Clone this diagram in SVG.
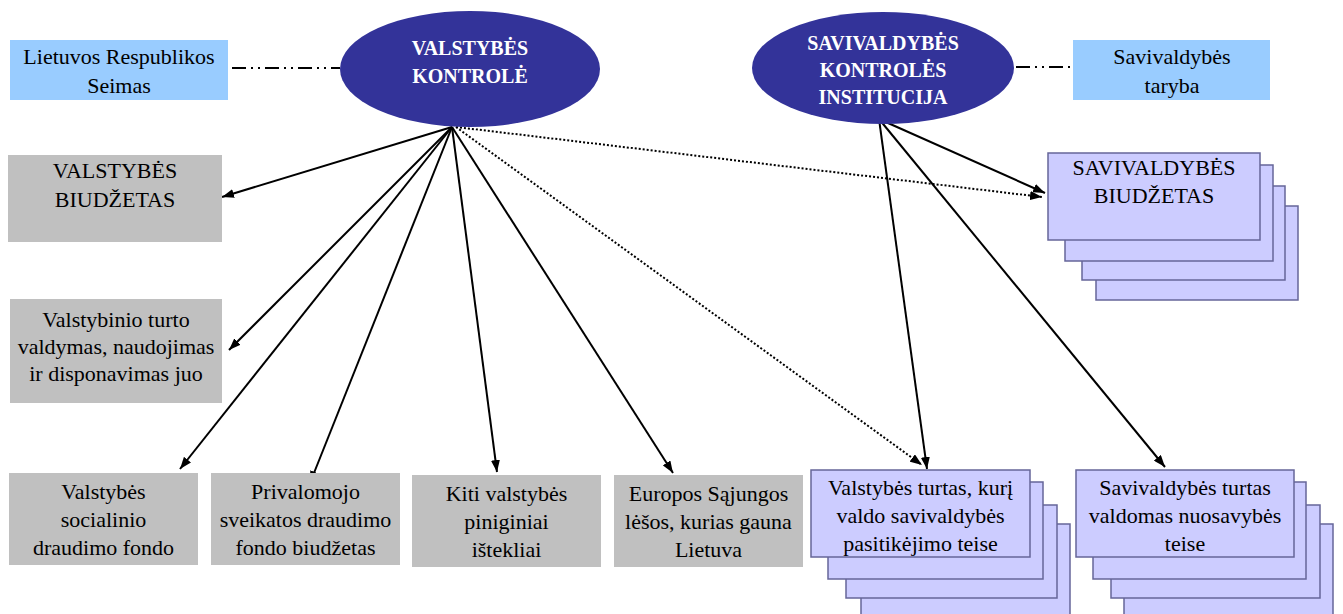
<svg xmlns="http://www.w3.org/2000/svg" width="1343" height="614" viewBox="0 0 1343 614">
<style>
.t{font-size:22px;fill:#000;text-anchor:middle}
.e{font-size:20px;font-weight:bold;fill:#fff;text-anchor:middle}
.gray{fill:#c0c0c0}
.blue{fill:#99ccff}
.stk{fill:#ccccff;stroke:#666699;stroke-width:1.5}
.ell{fill:#333399}
.arr{stroke:#000;stroke-width:2;fill:none;marker-end:url(#ah)}
.dot{stroke:#000;stroke-width:2;fill:none;stroke-dasharray:2 2;marker-end:url(#ah)}
.dd{stroke:#000;stroke-width:2;fill:none;stroke-dasharray:14 5 2 5 2 5}
</style>
<defs>
<marker id="ah" markerUnits="userSpaceOnUse" markerWidth="13" markerHeight="9" refX="12" refY="4.5" orient="auto">
<path d="M0,0 L12,4.5 L0,9 z" fill="#000"/>
</marker>
</defs>
<rect width="1343" height="614" fill="#fff"/>

<g id="connectors">
<line class="dd" x1="232" y1="68" x2="340" y2="68"/>
<line class="dd" x1="1016" y1="67" x2="1073" y2="67"/>
<line class="arr" x1="452" y1="127" x2="222" y2="197"/>
<line class="arr" x1="452" y1="127" x2="229" y2="350"/>
<line class="arr" x1="452" y1="127" x2="180" y2="469"/>
<line class="arr" x1="452" y1="127" x2="310" y2="483"/>
<line class="arr" x1="452" y1="127" x2="497" y2="472"/>
<line class="arr" x1="452" y1="127" x2="673" y2="473"/>
<line class="dot" x1="456" y1="127" x2="922" y2="465"/>
<line class="dot" x1="456" y1="127" x2="1042" y2="197"/>
<line class="arr" x1="879" y1="119" x2="1045" y2="193"/>
<line class="arr" x1="879" y1="119" x2="927" y2="469"/>
<line class="arr" x1="879" y1="119" x2="1165" y2="467"/>
</g>

<g font-family="Liberation Serif, Times New Roman, Times, serif">
<g id="seimas">
<rect class="blue" x="10" y="40" width="218" height="60"/>
<text class="t" x="119" y="64">Lietuvos Respublikos</text>
<text class="t" x="119" y="93">Seimas</text>
</g>

<g id="valstybes-kontrole">
<ellipse class="ell" cx="470" cy="69" rx="130" ry="58"/>
<text class="e" x="470" y="55">VALSTYBĖS</text>
<text class="e" x="470" y="83">KONTROLĖ</text>
</g>

<g id="savivaldybes-kontroles">
<ellipse class="ell" cx="883" cy="68" rx="131" ry="56"/>
<text class="e" x="883" y="50">SAVIVALDYBĖS</text>
<text class="e" x="883" y="77">KONTROLĖS</text>
<text class="e" x="883" y="104">INSTITUCIJA</text>
</g>

<g id="taryba">
<rect class="blue" x="1073" y="40" width="197" height="60"/>
<text class="t" x="1172" y="64">Savivaldybės</text>
<text class="t" x="1172" y="93">taryba</text>
</g>

<g id="valstybes-biudzetas">
<rect class="gray" x="8" y="155" width="214" height="87"/>
<text class="t" x="115" y="178">VALSTYBĖS</text>
<text class="t" x="115" y="207">BIUDŽETAS</text>
</g>

<g id="valstybinio-turto">
<rect class="gray" x="10" y="299" width="212" height="104"/>
<text class="t" x="116" y="327">Valstybinio turto</text>
<text class="t" x="116" y="354">valdymas, naudojimas</text>
<text class="t" x="116" y="381">ir disponavimas juo</text>
</g>

<g id="socialinio">
<rect class="gray" x="9" y="473" width="189" height="92"/>
<text class="t" x="103.5" y="499">Valstybės</text>
<text class="t" x="103.5" y="527">socialinio</text>
<text class="t" x="103.5" y="555">draudimo fondo</text>
</g>

<g id="privalomojo">
<rect class="gray" x="211" y="473" width="189" height="92"/>
<text class="t" x="305.5" y="499">Privalomojo</text>
<text class="t" x="305.5" y="527">sveikatos draudimo</text>
<text class="t" x="305.5" y="555">fondo biudžetas</text>
</g>

<g id="kiti">
<rect class="gray" x="412" y="475" width="189" height="92"/>
<text class="t" x="506.5" y="501">Kiti valstybės</text>
<text class="t" x="506.5" y="529">piniginiai</text>
<text class="t" x="506.5" y="557">ištekliai</text>
</g>

<g id="europos">
<rect class="gray" x="614" y="475" width="189" height="92"/>
<text class="t" x="708.5" y="501">Europos Sąjungos</text>
<text class="t" x="708.5" y="529">lėšos, kurias gauna</text>
<text class="t" x="708.5" y="557">Lietuva</text>
</g>

<g id="savivaldybes-biudzetas">
<rect class="stk" x="1096" y="206" width="202" height="94"/>
<rect class="stk" x="1082" y="186" width="203" height="94"/>
<rect class="stk" x="1065" y="165" width="208" height="96"/>
<rect class="stk" x="1048" y="153" width="212" height="87"/>
<text class="t" x="1154" y="175">SAVIVALDYBĖS</text>
<text class="t" x="1154" y="203">BIUDŽETAS</text>
</g>

<g id="valstybes-turtas">
<rect class="stk" x="861" y="524" width="209" height="100"/>
<rect class="stk" x="846" y="505" width="211" height="93"/>
<rect class="stk" x="828" y="482" width="215" height="97"/>
<rect class="stk" x="811" y="470" width="219" height="87"/>
<text class="t" x="920.5" y="495">Valstybės turtas, kurį</text>
<text class="t" x="920.5" y="523">valdo savivaldybės</text>
<text class="t" x="920.5" y="551">pasitikėjimo teise</text>
</g>

<g id="savivaldybes-turtas">
<rect class="stk" x="1124" y="524" width="209" height="100"/>
<rect class="stk" x="1111" y="505" width="209" height="93"/>
<rect class="stk" x="1093" y="482" width="213" height="97"/>
<rect class="stk" x="1076" y="470" width="218" height="87"/>
<text class="t" x="1185" y="495">Savivaldybės turtas</text>
<text class="t" x="1185" y="523">valdomas nuosavybės</text>
<text class="t" x="1185" y="551">teise</text>
</g>
</g>
</svg>
